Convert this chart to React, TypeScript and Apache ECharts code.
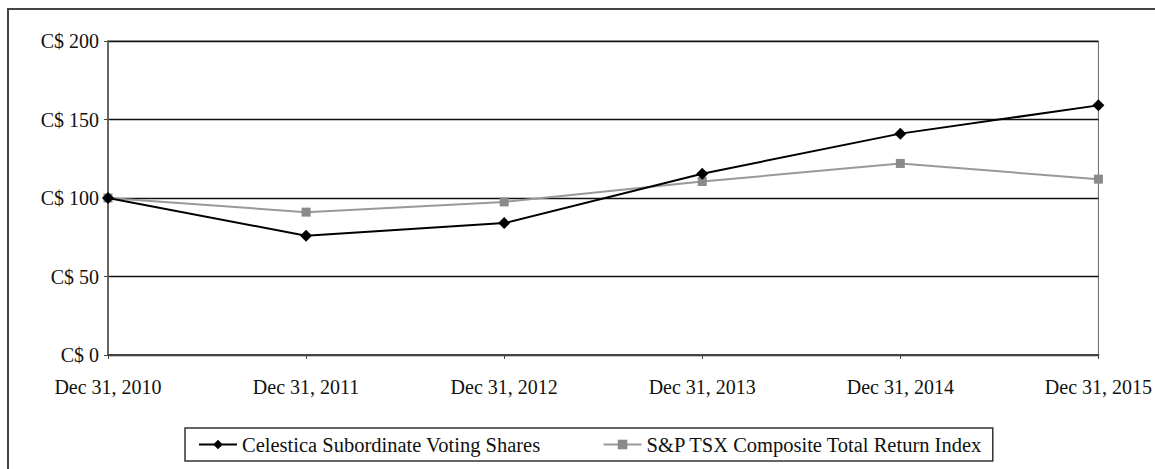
import React, { useEffect, useRef } from "react";
import * as echarts from "echarts";

const categories = ["Dec 31, 2010", "Dec 31, 2011", "Dec 31, 2012", "Dec 31, 2013", "Dec 31, 2014", "Dec 31, 2015"];
const celestica = [100, 76, 84, 115.5, 141, 159];
const tsx = [100, 91, 97.5, 110.5, 122, 112];
const seriesNames = ["Celestica Subordinate Voting Shares", "S&P TSX Composite Total Return Index"];

export default function App() {
  const ref = useRef<HTMLDivElement>(null);
  useEffect(() => {
    document.body.style.margin = "0";
    const chart = echarts.init(ref.current!, null, { renderer: "svg" });
    const font = "'Liberation Serif', 'Times New Roman', serif";
    chart.setOption({
      animation: false,
      backgroundColor: "#ffffff",
      textStyle: { fontFamily: font },
      graphic: [
        {
          type: "polyline",
          shape: { points: [[8, 700], [8, 9], [1400, 9]] },
          style: { fill: "none", stroke: "#444", lineWidth: 2 },
          silent: true,
        },
      ],
      grid: {
        left: 108,
        right: 55,
        top: 41,
        bottom: 114,
        show: true,
        borderColor: "#666",
        borderWidth: 1,
      },
      legend: {
        data: seriesNames,
        left: 185,
        top: 428,
        padding: [6, 10, 6, 13],
        itemGap: 62,
        itemWidth: 38,
        itemHeight: 12,
        borderColor: "#333",
        borderWidth: 1.5,
        textStyle: { fontFamily: font, fontSize: 20.5, color: "#111" },
      },
      xAxis: {
        type: "category",
        data: categories,
        boundaryGap: false,
        axisLine: { lineStyle: { color: "#444", width: 2 } },
        axisTick: { show: true, alignWithLabel: true, length: 4, lineStyle: { color: "#444" } },
        axisLabel: { fontFamily: font, fontSize: 20, color: "#111", margin: 22, interval: 0 },
      },
      yAxis: {
        type: "value",
        min: 0,
        max: 200,
        interval: 50,
        axisLine: { show: true, lineStyle: { color: "#666", width: 2 } },
        axisTick: { show: true, length: 4, lineStyle: { color: "#444" } },
        axisLabel: {
          fontFamily: font,
          fontSize: 20,
          color: "#111",
          margin: 9,
          formatter: (v: number) => "C$ " + v,
        },
        splitLine: { show: true, lineStyle: { color: "#111", width: 1.3 } },
      },
      series: [
        {
          name: seriesNames[0],
          type: "line",
          data: celestica,
          symbol: "diamond",
          symbolSize: 12,
          itemStyle: { color: "#000" },
          lineStyle: { color: "#000", width: 2 },
          z: 3,
        },
        {
          name: seriesNames[1],
          type: "line",
          data: tsx,
          symbol: "rect",
          symbolSize: 9,
          itemStyle: { color: "#8a8a8a" },
          lineStyle: { color: "#999", width: 2 },
          z: 2,
        },
      ],
    });
    return () => chart.dispose();
  }, []);
  return <div ref={ref} style={{ width: 1155, height: 469 }} />;
}
